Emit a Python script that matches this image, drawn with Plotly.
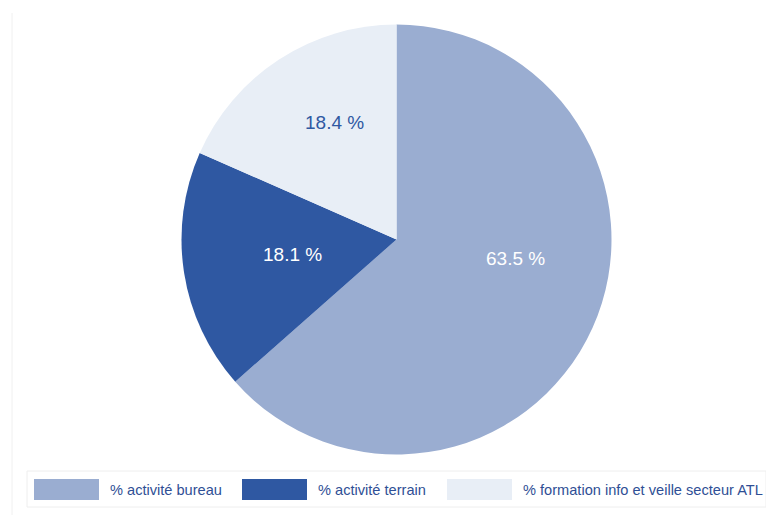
import plotly.graph_objects as go

# Répartition du temps de travail
categories = ["% activité bureau", "% activité terrain", "% formation info et veille secteur ATL"]
values = [63.5, 18.1, 18.4]
colors = ["#9AADD1", "#2F58A2", "#E8EEF6"]
label_colors = ["#FFFFFF", "#FFFFFF", "#2F58A2"]

W, H = 766, 515
FONT = "Liberation Sans, Arial, sans-serif"

# where each slice's percentage is written (pixels from top-left)
label_pos = [(515.5, 258), (292, 254), (334, 123)]

fig = go.Figure()
fig.add_trace(go.Pie(
    labels=categories,
    values=values,
    sort=False,
    direction="clockwise",
    rotation=0,
    marker=dict(colors=colors, line=dict(width=0)),
    textinfo="none",
    hoverinfo="label+value",
    showlegend=False,
    domain=dict(x=[181.5 / W, 611.5 / W], y=[1 - 454.5 / H, 1 - 24.5 / H]),
))

shapes = []
annotations = []

# slice percentages
for v, c, (px, py) in zip(values, label_colors, label_pos):
    annotations.append(dict(xref="paper", yref="paper",
                            x=px / W, y=1 - py / H,
                            xanchor="center", yanchor="middle",
                            text=f"{v:.1f} %", showarrow=False,
                            font=dict(family=FONT, size=19, color=c)))

# thin frame line on the left
shapes.append(dict(type="line", xref="paper", yref="paper",
                   x0=12 / W, x1=12 / W, y0=0, y1=1 - 13 / H,
                   line=dict(color="#F0F0F0", width=1)))

# legend box
shapes.append(dict(type="rect", xref="paper", yref="paper",
                   x0=27 / W, x1=1.0, y0=1 - 507 / H, y1=1 - 471 / H,
                   line=dict(color="#EEEEEE", width=1), fillcolor="rgba(0,0,0,0)"))

# legend entries: swatch + text
swatch_x = [34, 242, 447]
for cat, col, sx in zip(categories, colors, swatch_x):
    shapes.append(dict(type="rect", xref="paper", yref="paper",
                       x0=sx / W, x1=(sx + 65) / W,
                       y0=1 - 500 / H, y1=1 - 479 / H,
                       line=dict(width=0), fillcolor=col))
    annotations.append(dict(xref="paper", yref="paper",
                            x=(sx + 74) / W, y=1 - 490 / H,
                            xanchor="left", yanchor="middle",
                            text=cat, showarrow=False,
                            font=dict(family=FONT, size=14.6, color="#2F4F95")))

fig.update_layout(
    width=W, height=H,
    margin=dict(l=0, r=0, t=0, b=0),
    paper_bgcolor="white",
    plot_bgcolor="white",
    shapes=shapes,
    annotations=annotations,
)

fig.write_html("out.html")
